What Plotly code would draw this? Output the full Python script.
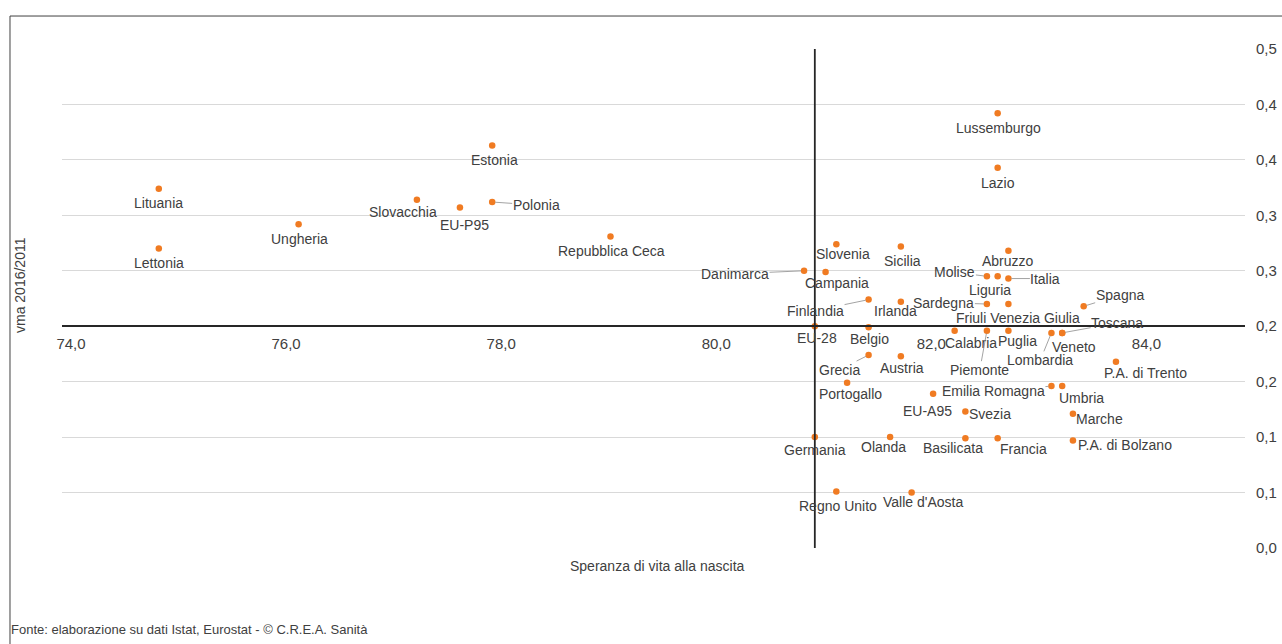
import plotly.graph_objects as go

# ---------------- data ----------------
names = ["Lituania", "Lettonia", "Ungheria", "Slovacchia", "Estonia", "EU-P95", "Polonia",
         "Repubblica Ceca", "Danimarca", "Slovenia", "Campania", "Sicilia", "Finlandia", "Irlanda",
         "EU-28", "Belgio", "Grecia", "Austria", "Portogallo", "EU-A95", "Svezia", "Calabria",
         "Lussemburgo", "Lazio", "Abruzzo", "Molise", "Liguria", "Italia", "Sardegna",
         "Friuli Venezia Giulia", "Spagna", "Piemonte", "Puglia", "Lombardia", "Toscana", "Veneto",
         "P.A. di Trento", "Emilia Romagna", "Umbria", "Marche", "Basilicata", "Francia",
         "P.A. di Bolzano", "Germania", "Olanda", "Regno Unito", "Valle d'Aosta"]

speranza = [74.9, 74.9, 76.2, 77.3, 78.0, 77.7, 78.0,
            79.1, 80.9, 81.2, 81.1, 81.8, 81.5, 81.8,
            81.0, 81.5, 81.5, 81.8, 81.3, 82.1, 82.4, 82.3,
            82.7, 82.7, 82.8, 82.6, 82.7, 82.8, 82.6,
            82.8, 83.5, 82.6, 82.8, 83.2, 83.3, 83.3,
            83.8, 83.2, 83.3, 83.4, 82.4, 82.7,
            83.4, 81.0, 81.7, 81.2, 81.9]

vma = [0.324, 0.270, 0.292, 0.314, 0.363, 0.307, 0.312,
       0.281, 0.250, 0.274, 0.249, 0.272, 0.224, 0.222,
       0.200, 0.199, 0.174, 0.173, 0.149, 0.139, 0.123, 0.196,
       0.392, 0.343, 0.268, 0.245, 0.245, 0.243, 0.220,
       0.220, 0.218, 0.196, 0.196, 0.194, 0.194, 0.194,
       0.168, 0.146, 0.146, 0.121, 0.099, 0.099,
       0.097, 0.100, 0.100, 0.051, 0.050]

x_tickvals = [74, 76, 78, 80, 82, 84]
x_ticktext = ["74,0", "76,0", "78,0", "80,0", "82,0", "84,0"]
y_tickvals = [0.0, 0.05, 0.10, 0.15, 0.20, 0.25, 0.30, 0.35, 0.40, 0.45]
y_ticktext = ["0,0", "0,1", "0,1", "0,2", "0,2", "0,3", "0,3", "0,4", "0,4", "0,5"]

x_title = "Speranza di vita alla nascita"
y_title = "vma 2016/2011"
footer = "Fonte: elaborazione su dati Istat, Eurostat - © C.R.E.A. Sanità"
reference_name = "EU-28"

# ---------------- styles ----------------
FONT = "Liberation Sans, Arial, Helvetica, sans-serif"
TXT = "#404040"
ORANGE = "#F07B22"
FS = 14

# label offsets (px, screen coords: dx right, dy down) and leader flag
label_pos = {
    "Lituania": (0, 14.5, False), "Lettonia": (0, 14.5, False), "Ungheria": (1, 15, False),
    "Slovacchia": (-14, 12.5, False), "Estonia": (2, 15, False), "EU-P95": (5, 17, False),
    "Polonia": (44, 3, True), "Repubblica Ceca": (1, 15, False), "Danimarca": (-69, 3, True),
    "Slovenia": (7, 10, False), "Campania": (11, 11, False), "Sicilia": (2, 14.5, False),
    "Finlandia": (-53, 11, True), "Irlanda": (-5, 9.5, False), "EU-28": (2, 11.5, False),
    "Belgio": (1, 11.5, False), "Grecia": (-29, 14.5, True), "Austria": (1.5, 12, False),
    "Portogallo": (3, 11, False), "EU-A95": (-6, 17, False), "Svezia": (25, 2.5, False),
    "Calabria": (16, 12.5, False), "Lussemburgo": (1, 15, False), "Lazio": (0, 15, False),
    "Abruzzo": (0, 10, False), "Molise": (-32, -4, True), "Liguria": (-8, 13.5, False),
    "Italia": (37, 0, True), "Sardegna": (-43, -1.5, True), "Friuli Venezia Giulia": (10, 14, False),
    "Spagna": (36, -11, True), "Piemonte": (-7, 39, True), "Puglia": (9, 10, False),
    "Lombardia": (-11, 27, True), "Toscana": (55, -10, True), "Veneto": (12, 14, False),
    "P.A. di Trento": (30, 11.5, False), "Emilia Romagna": (-58, 5, True), "Umbria": (19, 12, False),
    "Marche": (27, 5, False), "Basilicata": (-12, 10, False), "Francia": (26, 10.5, False),
    "P.A. di Bolzano": (52, 5, False), "Germania": (0, 12.5, False), "Olanda": (-7, 10, False),
    "Regno Unito": (1.5, 14.5, False), "Valle d'Aosta": (11, 9.5, False),
}

ref_i = names.index(reference_name)
ref_x, ref_y = speranza[ref_i], vma[ref_i]
x_range = [74, 85]
y_range = [0, 0.45]

fig = go.Figure()
fig.add_trace(go.Scatter(
    x=speranza, y=vma, mode="markers", text=names,
    marker=dict(color=ORANGE, size=6.5, line=dict(width=0)),
    hoverinfo="text", showlegend=False, cliponaxis=False,
))

annotations = []
for n, xv, yv in zip(names, speranza, vma):
    dx, dy, leader = label_pos[n]
    common = dict(x=xv, y=yv, xref="x", yref="y", text=n,
                  font=dict(family=FONT, size=FS, color=TXT))
    if leader:
        annotations.append(dict(**common, showarrow=True, ax=dx, ay=dy, arrowhead=0,
                                arrowwidth=0.8, arrowcolor="#8c8c8c", standoff=3,
                                borderpad=0))
    else:
        annotations.append(dict(**common, showarrow=False, xshift=dx, yshift=-dy,
                                xanchor="center", yanchor="middle"))

# axis titles & footer
annotations.append(dict(text=x_title, xref="paper", yref="paper", x=0.5038, y=-0.0355,
                        xanchor="center", yanchor="middle", showarrow=False,
                        font=dict(family=FONT, size=14, color=TXT)))
annotations.append(dict(text=y_title, xref="paper", yref="paper", x=-0.0355, y=0.527,
                        xanchor="center", yanchor="middle", textangle=-90, showarrow=False,
                        font=dict(family=FONT, size=14, color=TXT)))
annotations.append(dict(text=footer, xref="paper", yref="paper", x=-0.0448, y=-0.163,
                        xanchor="left", yanchor="middle", showarrow=False,
                        font=dict(family=FONT, size=13, color=TXT)))

shapes = [
    # vertical reference line at EU-28 life expectancy
    dict(type="line", xref="x", yref="y domain", x0=ref_x, x1=ref_x, y0=0, y1=1,
         line=dict(color="#262626", width=1.8), layer="above"),
    # outer frame
    dict(type="rect", xref="paper", yref="paper", x0=-0.04396, x1=1.04, y0=-0.23, y1=1.0661,
         line=dict(color="#404040", width=1), layer="below"),
]

fig.update_layout(
    width=1282, height=644, autosize=False,
    margin=dict(l=62, r=37, t=49, b=96, autoexpand=False),
    paper_bgcolor="white", plot_bgcolor="white",
    separators=",.",
    annotations=annotations, shapes=shapes,
    font=dict(family=FONT, size=FS, color=TXT),
    xaxis=dict(range=x_range, tickvals=x_tickvals, ticktext=x_ticktext, automargin=False,
               showgrid=False, zeroline=False, showline=True, linecolor="#262626", linewidth=2,
               anchor="free", position=ref_y / y_range[1], ticks="",
               ticklabelshift=9, ticklabelstandoff=4,
               tickfont=dict(family=FONT, size=15, color=TXT)),
    yaxis=dict(range=y_range, tickvals=y_tickvals, ticktext=y_ticktext, side="right",
               automargin=False,
               showgrid=True, gridcolor="#d9d9d9", gridwidth=1.3, zeroline=False,
               showline=False, ticks="", ticklabelstandoff=10,
               tickfont=dict(family=FONT, size=15, color=TXT)),
)

fig.write_html("out.html", config={"displayModeBar": False},
               post_script="document.body.style.margin='0';")
